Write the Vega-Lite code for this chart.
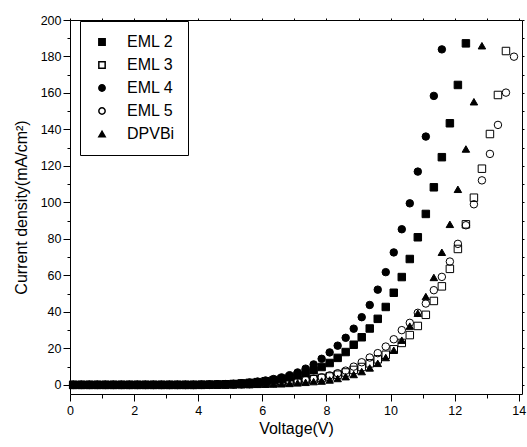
{
  "$schema": "https://vega.github.io/schema/vega-lite/v6.json",
  "autosize": {"type": "none"},
  "padding": {"left": 70, "top": 20, "right": 5, "bottom": 53},
  "width": 452,
  "height": 374,
  "background": "white",
  "config": {
    "font": "Liberation Sans",
    "view": {"stroke": null},
    "axis": {"grid": false, "domainColor": "black", "tickColor": "black", "labelColor": "black", "titleColor": "black", "labelFont": "Liberation Sans", "titleFont": "Liberation Sans", "titleFontWeight": "normal", "labelFontSize": 12.5, "titleFontSize": 16}
  },
  "data": {"values": [
    {"s":"EML 2","v":0.1,"j":0},{"s":"EML 2","v":0.35,"j":0},{"s":"EML 2","v":0.6,"j":0},{"s":"EML 2","v":0.85,"j":0},{"s":"EML 2","v":1.1,"j":0},{"s":"EML 2","v":1.35,"j":0},{"s":"EML 2","v":1.6,"j":0},{"s":"EML 2","v":1.85,"j":0},{"s":"EML 2","v":2.1,"j":0},{"s":"EML 2","v":2.35,"j":0},{"s":"EML 2","v":2.6,"j":0},{"s":"EML 2","v":2.85,"j":0},{"s":"EML 2","v":3.1,"j":0},{"s":"EML 2","v":3.35,"j":0},{"s":"EML 2","v":3.6,"j":0},{"s":"EML 2","v":3.85,"j":0},{"s":"EML 2","v":4.1,"j":0.1},{"s":"EML 2","v":4.35,"j":0.1},{"s":"EML 2","v":4.6,"j":0.2},{"s":"EML 2","v":4.85,"j":0.3},{"s":"EML 2","v":5.1,"j":0.5},{"s":"EML 2","v":5.35,"j":0.8},{"s":"EML 2","v":5.6,"j":1.1},{"s":"EML 2","v":5.85,"j":1.5},{"s":"EML 2","v":6.1,"j":2.0},{"s":"EML 2","v":6.35,"j":2.6},{"s":"EML 2","v":6.6,"j":3.3},{"s":"EML 2","v":6.85,"j":4.2},{"s":"EML 2","v":7.1,"j":5.2},{"s":"EML 2","v":7.35,"j":6.5},{"s":"EML 2","v":7.6,"j":8.0},{"s":"EML 2","v":7.85,"j":9.8},{"s":"EML 2","v":8.1,"j":12.0},{"s":"EML 2","v":8.35,"j":14.8},{"s":"EML 2","v":8.6,"j":18.0},{"s":"EML 2","v":8.85,"j":22.0},{"s":"EML 2","v":9.1,"j":26.1},{"s":"EML 2","v":9.35,"j":30.9},{"s":"EML 2","v":9.6,"j":36.2},{"s":"EML 2","v":9.85,"j":42.7},{"s":"EML 2","v":10.1,"j":50.5},{"s":"EML 2","v":10.35,"j":59.1},{"s":"EML 2","v":10.6,"j":69.0},{"s":"EML 2","v":10.85,"j":80.9},{"s":"EML 2","v":11.1,"j":93.7},{"s":"EML 2","v":11.35,"j":108.3},{"s":"EML 2","v":11.6,"j":124.8},{"s":"EML 2","v":11.85,"j":143.4},{"s":"EML 2","v":12.1,"j":164.4},{"s":"EML 2","v":12.35,"j":187.2},
    {"s":"EML 3","v":0.1,"j":0},{"s":"EML 3","v":0.35,"j":0},{"s":"EML 3","v":0.6,"j":0},{"s":"EML 3","v":0.85,"j":0},{"s":"EML 3","v":1.1,"j":0},{"s":"EML 3","v":1.35,"j":0},{"s":"EML 3","v":1.6,"j":0},{"s":"EML 3","v":1.85,"j":0},{"s":"EML 3","v":2.1,"j":0},{"s":"EML 3","v":2.35,"j":0},{"s":"EML 3","v":2.6,"j":0},{"s":"EML 3","v":2.85,"j":0},{"s":"EML 3","v":3.1,"j":0},{"s":"EML 3","v":3.35,"j":0},{"s":"EML 3","v":3.6,"j":0},{"s":"EML 3","v":3.85,"j":0},{"s":"EML 3","v":4.1,"j":0},{"s":"EML 3","v":4.35,"j":0.1},{"s":"EML 3","v":4.6,"j":0.1},{"s":"EML 3","v":4.85,"j":0.2},{"s":"EML 3","v":5.1,"j":0.3},{"s":"EML 3","v":5.35,"j":0.4},{"s":"EML 3","v":5.6,"j":0.5},{"s":"EML 3","v":5.85,"j":0.6},{"s":"EML 3","v":6.1,"j":0.8},{"s":"EML 3","v":6.35,"j":1.0},{"s":"EML 3","v":6.6,"j":1.3},{"s":"EML 3","v":6.85,"j":1.6},{"s":"EML 3","v":7.1,"j":2.0},{"s":"EML 3","v":7.35,"j":2.5},{"s":"EML 3","v":7.6,"j":3.1},{"s":"EML 3","v":7.85,"j":3.8},{"s":"EML 3","v":8.1,"j":4.6},{"s":"EML 3","v":8.35,"j":5.6},{"s":"EML 3","v":8.6,"j":6.8},{"s":"EML 3","v":8.85,"j":8.2},{"s":"EML 3","v":9.1,"j":9.8},{"s":"EML 3","v":9.35,"j":11.8},{"s":"EML 3","v":9.6,"j":14.0},{"s":"EML 3","v":9.85,"j":16.5},{"s":"EML 3","v":10.1,"j":19.5},{"s":"EML 3","v":10.35,"j":23.0},{"s":"EML 3","v":10.6,"j":27.3},{"s":"EML 3","v":10.85,"j":32.3},{"s":"EML 3","v":11.1,"j":38.4},{"s":"EML 3","v":11.35,"j":46.0},{"s":"EML 3","v":11.6,"j":54.0},{"s":"EML 3","v":11.85,"j":63.6},{"s":"EML 3","v":12.1,"j":74.5},{"s":"EML 3","v":12.35,"j":88.0},{"s":"EML 3","v":12.6,"j":102.6},{"s":"EML 3","v":12.85,"j":118.5},{"s":"EML 3","v":13.1,"j":137.5},{"s":"EML 3","v":13.35,"j":158.9},{"s":"EML 3","v":13.6,"j":183.0},
    {"s":"EML 4","v":0.1,"j":0},{"s":"EML 4","v":0.35,"j":0},{"s":"EML 4","v":0.6,"j":0},{"s":"EML 4","v":0.85,"j":0},{"s":"EML 4","v":1.1,"j":0},{"s":"EML 4","v":1.35,"j":0},{"s":"EML 4","v":1.6,"j":0},{"s":"EML 4","v":1.85,"j":0},{"s":"EML 4","v":2.1,"j":0},{"s":"EML 4","v":2.35,"j":0},{"s":"EML 4","v":2.6,"j":0},{"s":"EML 4","v":2.85,"j":0},{"s":"EML 4","v":3.1,"j":0},{"s":"EML 4","v":3.35,"j":0},{"s":"EML 4","v":3.6,"j":0},{"s":"EML 4","v":3.85,"j":0},{"s":"EML 4","v":4.1,"j":0.1},{"s":"EML 4","v":4.35,"j":0.2},{"s":"EML 4","v":4.6,"j":0.3},{"s":"EML 4","v":4.85,"j":0.4},{"s":"EML 4","v":5.1,"j":0.6},{"s":"EML 4","v":5.35,"j":0.9},{"s":"EML 4","v":5.6,"j":1.3},{"s":"EML 4","v":5.85,"j":1.8},{"s":"EML 4","v":6.1,"j":2.4},{"s":"EML 4","v":6.35,"j":3.2},{"s":"EML 4","v":6.6,"j":4.1},{"s":"EML 4","v":6.85,"j":5.3},{"s":"EML 4","v":7.1,"j":6.8},{"s":"EML 4","v":7.35,"j":8.9},{"s":"EML 4","v":7.6,"j":11.2},{"s":"EML 4","v":7.85,"j":14.3},{"s":"EML 4","v":8.1,"j":17.8},{"s":"EML 4","v":8.35,"j":21.5},{"s":"EML 4","v":8.6,"j":25.8},{"s":"EML 4","v":8.85,"j":30.8},{"s":"EML 4","v":9.1,"j":37.1},{"s":"EML 4","v":9.35,"j":43.8},{"s":"EML 4","v":9.6,"j":52.2},{"s":"EML 4","v":9.85,"j":61.8},{"s":"EML 4","v":10.1,"j":72.6},{"s":"EML 4","v":10.35,"j":85.3},{"s":"EML 4","v":10.6,"j":99.5},{"s":"EML 4","v":10.85,"j":116.9},{"s":"EML 4","v":11.1,"j":136.1},{"s":"EML 4","v":11.35,"j":158.4},{"s":"EML 4","v":11.6,"j":183.9},
    {"s":"EML 5","v":0.1,"j":0},{"s":"EML 5","v":0.35,"j":0},{"s":"EML 5","v":0.6,"j":0},{"s":"EML 5","v":0.85,"j":0},{"s":"EML 5","v":1.1,"j":0},{"s":"EML 5","v":1.35,"j":0},{"s":"EML 5","v":1.6,"j":0},{"s":"EML 5","v":1.85,"j":0},{"s":"EML 5","v":2.1,"j":0},{"s":"EML 5","v":2.35,"j":0},{"s":"EML 5","v":2.6,"j":0},{"s":"EML 5","v":2.85,"j":0},{"s":"EML 5","v":3.1,"j":0},{"s":"EML 5","v":3.35,"j":0},{"s":"EML 5","v":3.6,"j":0},{"s":"EML 5","v":3.85,"j":0},{"s":"EML 5","v":4.1,"j":0},{"s":"EML 5","v":4.35,"j":0},{"s":"EML 5","v":4.6,"j":0.1},{"s":"EML 5","v":4.85,"j":0.2},{"s":"EML 5","v":5.1,"j":0.2},{"s":"EML 5","v":5.35,"j":0.3},{"s":"EML 5","v":5.6,"j":0.4},{"s":"EML 5","v":5.85,"j":0.6},{"s":"EML 5","v":6.1,"j":0.8},{"s":"EML 5","v":6.35,"j":1.0},{"s":"EML 5","v":6.6,"j":1.3},{"s":"EML 5","v":6.85,"j":1.7},{"s":"EML 5","v":7.1,"j":2.1},{"s":"EML 5","v":7.35,"j":2.7},{"s":"EML 5","v":7.6,"j":3.4},{"s":"EML 5","v":7.85,"j":4.2},{"s":"EML 5","v":8.1,"j":5.2},{"s":"EML 5","v":8.35,"j":6.4},{"s":"EML 5","v":8.6,"j":7.8},{"s":"EML 5","v":8.85,"j":10.0},{"s":"EML 5","v":9.1,"j":12.4},{"s":"EML 5","v":9.35,"j":15.0},{"s":"EML 5","v":9.6,"j":17.4},{"s":"EML 5","v":9.85,"j":21.0},{"s":"EML 5","v":10.1,"j":25.0},{"s":"EML 5","v":10.35,"j":30.0},{"s":"EML 5","v":10.6,"j":34.0},{"s":"EML 5","v":10.85,"j":39.5},{"s":"EML 5","v":11.1,"j":44.6},{"s":"EML 5","v":11.35,"j":51.9},{"s":"EML 5","v":11.6,"j":59.2},{"s":"EML 5","v":11.85,"j":67.6},{"s":"EML 5","v":12.1,"j":77.3},{"s":"EML 5","v":12.35,"j":87.5},{"s":"EML 5","v":12.6,"j":99.0},{"s":"EML 5","v":12.85,"j":112.1},{"s":"EML 5","v":13.1,"j":126.6},{"s":"EML 5","v":13.35,"j":142.5},{"s":"EML 5","v":13.6,"j":160.2},{"s":"EML 5","v":13.85,"j":179.9},
    {"s":"DPVBi","v":0.1,"j":0},{"s":"DPVBi","v":0.35,"j":0},{"s":"DPVBi","v":0.6,"j":0},{"s":"DPVBi","v":0.85,"j":0},{"s":"DPVBi","v":1.1,"j":0},{"s":"DPVBi","v":1.35,"j":0},{"s":"DPVBi","v":1.6,"j":0},{"s":"DPVBi","v":1.85,"j":0},{"s":"DPVBi","v":2.1,"j":0},{"s":"DPVBi","v":2.35,"j":0},{"s":"DPVBi","v":2.6,"j":0},{"s":"DPVBi","v":2.85,"j":0},{"s":"DPVBi","v":3.1,"j":0},{"s":"DPVBi","v":3.35,"j":0},{"s":"DPVBi","v":3.6,"j":0},{"s":"DPVBi","v":3.85,"j":0},{"s":"DPVBi","v":4.1,"j":0},{"s":"DPVBi","v":4.35,"j":0},{"s":"DPVBi","v":4.6,"j":0},{"s":"DPVBi","v":4.85,"j":0},{"s":"DPVBi","v":5.1,"j":0.1},{"s":"DPVBi","v":5.35,"j":0.2},{"s":"DPVBi","v":5.6,"j":0.2},{"s":"DPVBi","v":5.85,"j":0.3},{"s":"DPVBi","v":6.1,"j":0.4},{"s":"DPVBi","v":6.35,"j":0.5},{"s":"DPVBi","v":6.6,"j":0.6},{"s":"DPVBi","v":6.85,"j":0.8},{"s":"DPVBi","v":7.1,"j":1.1},{"s":"DPVBi","v":7.35,"j":1.4},{"s":"DPVBi","v":7.6,"j":1.8},{"s":"DPVBi","v":7.85,"j":2.1},{"s":"DPVBi","v":8.1,"j":2.7},{"s":"DPVBi","v":8.35,"j":3.5},{"s":"DPVBi","v":8.6,"j":4.5},{"s":"DPVBi","v":8.85,"j":5.7},{"s":"DPVBi","v":9.1,"j":7.3},{"s":"DPVBi","v":9.35,"j":9.3},{"s":"DPVBi","v":9.6,"j":11.8},{"s":"DPVBi","v":9.85,"j":15.0},{"s":"DPVBi","v":10.1,"j":19.0},{"s":"DPVBi","v":10.35,"j":24.5},{"s":"DPVBi","v":10.6,"j":32.2},{"s":"DPVBi","v":10.85,"j":39.3},{"s":"DPVBi","v":11.1,"j":48.4},{"s":"DPVBi","v":11.35,"j":58.9},{"s":"DPVBi","v":11.6,"j":72.7},{"s":"DPVBi","v":11.85,"j":88.0},{"s":"DPVBi","v":12.1,"j":107.2},{"s":"DPVBi","v":12.35,"j":129.3},{"s":"DPVBi","v":12.6,"j":155.2},{"s":"DPVBi","v":12.85,"j":185.9}
  ]},
  "resolve": {"axis": {"x": "independent", "y": "independent"}},
  "layer": [
    {
      "mark": {"type": "point", "opacity": 1, "size": 56, "stroke": "black", "strokeWidth": 1},
      "encoding": {
        "x": {"field": "v", "type": "quantitative", "scale": {"domain": [0, 14.1], "nice": false, "zero": false},
          "axis": {"orient": "bottom", "title": "Voltage(V)", "values": [0,1,2,3,4,5,6,7,8,9,10,11,12,13,14],
            "labelExpr": "datum.value % 2 === 0 ? datum.label : ''",
            "tickSize": {"condition": {"test": "datum.value % 2 === 0", "value": 7}, "value": 4},
            "labelPadding": 3, "titlePadding": 4, "labelFlush": false}},
        "y": {"field": "j", "type": "quantitative", "scale": {"domain": [-5, 200], "nice": false, "zero": false},
          "axis": {"orient": "left", "title": "Current density(mA/cm²)", "values": [0,10,20,30,40,50,60,70,80,90,100,110,120,130,140,150,160,170,180,190,200],
            "labelExpr": "datum.value % 20 === 0 ? datum.label : ''",
            "tickSize": {"condition": {"test": "datum.value % 20 === 0", "value": 7}, "value": 3},
            "labelPadding": 2, "titlePadding": 11}},
        "shape": {"field": "s", "type": "nominal",
          "scale": {"domain": ["EML 2", "EML 3", "EML 4", "EML 5", "DPVBi"], "range": ["square", "square", "circle", "circle", "triangle-up"]},
          "legend": {"title": null, "orient": "none", "legendX": 10, "legendY": 1, "strokeColor": "black", "fillColor": "white", "padding": 13, "symbolSize": 40, "labelFontSize": 16, "labelFont": "Liberation Sans", "labelColor": "black", "labelOffset": 17, "symbolOffset": 1, "rowPadding": 7,
            "encode": {"symbols": {"update": {"stroke": {"value": "black"}, "strokeWidth": {"value": 1}}}}}},
        "fill": {"field": "s", "type": "nominal",
          "scale": {"domain": ["EML 2", "EML 3", "EML 4", "EML 5", "DPVBi"], "range": ["black", "transparent", "black", "transparent", "black"]},
          "legend": {"title": null, "orient": "none", "legendX": 10, "legendY": 1, "strokeColor": "black", "fillColor": "white", "padding": 13, "symbolSize": 40, "labelFontSize": 16, "labelFont": "Liberation Sans", "labelColor": "black", "labelOffset": 17, "symbolOffset": 1, "rowPadding": 7,
            "encode": {"symbols": {"update": {"stroke": {"value": "black"}, "strokeWidth": {"value": 1}}}}}}
      }
    },
    {
      "mark": {"type": "point", "opacity": 0},
      "encoding": {
        "x": {"field": "v", "type": "quantitative", "scale": {"domain": [0, 14.1], "nice": false, "zero": false},
          "axis": {"orient": "top", "title": null, "labels": false, "values": [0,1,2,3,4,5,6,7,8,9,10,11,12,13,14], "tickSize": 2}},
        "y": {"field": "j", "type": "quantitative", "scale": {"domain": [-5, 200], "nice": false, "zero": false},
          "axis": {"orient": "right", "title": null, "labels": false, "values": [0,10,20,30,40,50,60,70,80,90,100,110,120,130,140,150,160,170,180,190,200], "tickSize": 2}}
      }
    }
  ]
}
